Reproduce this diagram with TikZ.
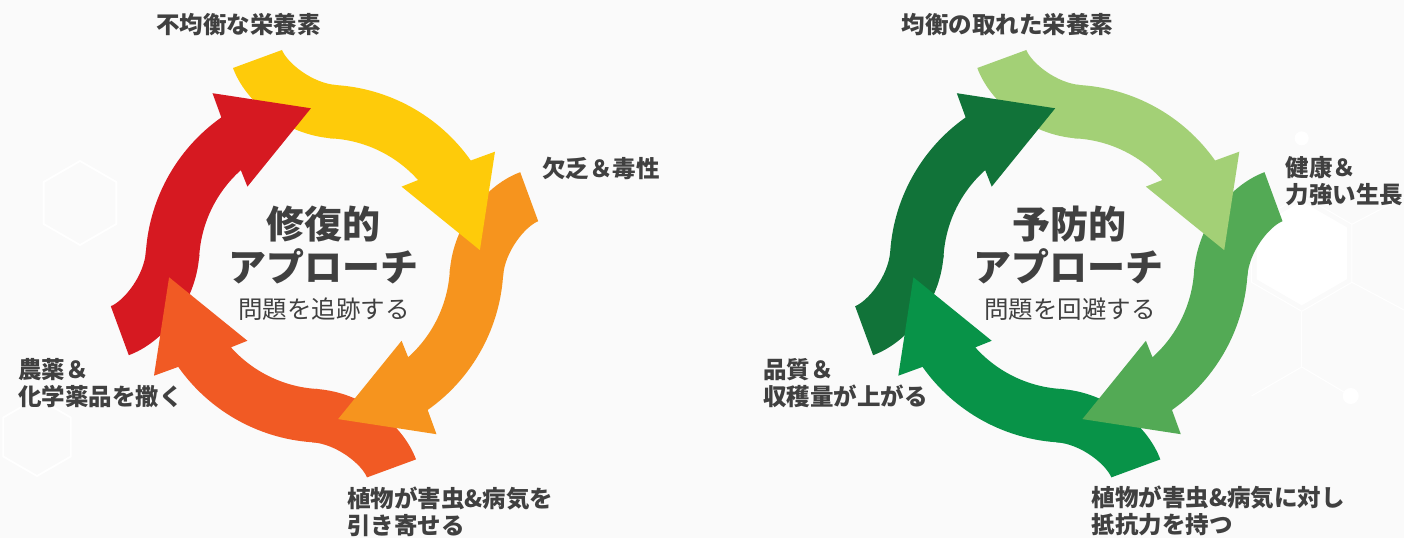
\documentclass[tikz,border=0pt]{standalone}
\usepackage{fontspec}
\setmainfont{Noto Sans CJK JP}
\definecolor{bg}{HTML}{FAFAFA}
\definecolor{txt}{HTML}{404040}
\definecolor{cyel}{HTML}{FECB0A}
\definecolor{corg}{HTML}{F6941E}
\definecolor{cred}{HTML}{F15A24}
\definecolor{cdrd}{HTML}{D61921}
\definecolor{gl}{HTML}{A3D076}
\definecolor{gm}{HTML}{53AA55}
\definecolor{gg}{HTML}{089348}
\definecolor{gd}{HTML}{117339}
\tikzset{
  lbl/.style={anchor=west, inner sep=0pt, text=txt, font=\bfseries\fontsize{23.5}{27}\selectfont, align=left},
  ttl/.style={inner sep=0pt, text=txt, font=\bfseries\fontsize{38}{42}\selectfont},
  subt/.style={inner sep=0pt, text=txt, font=\fontsize{24.5}{28}\selectfont},
  hexline/.style={draw=white, line width=1.8pt, line join=round},
}
\newcommand\cyctail[1]{\fill[#1] (86:179) .. controls (-12.4,180.3) and (-37.4,200.9) .. (-42.5,213.7) -- (-91.5,195.7) .. controls (-79.5,163.1) and (-41.1,128.7) .. (86:125.5) -- cycle;}
\newcommand\cychead[1]{\fill[#1] (87.5:179) arc[start angle=87.5, end angle=35.2, radius=179] -- (33.3:204) -- (5:156) -- (45:109) -- (41.8:125.5) arc[start angle=41.8, end angle=87.5, radius=125.5] -- cycle;}
\newcommand\hexat[2]{(#1) +(90:#2) -- +(30:#2) -- +(-30:#2) -- +(-90:#2) -- +(-150:#2) -- +(150:#2) -- cycle}
\begin{document}
\begin{tikzpicture}[x=1pt,y=1pt]
\fill[bg] (0,0) rectangle (1404,538);
\path[use as bounding box] (0,0) rectangle (1404,538);
% faint background hexagons
\draw[hexline] \hexat{80,335}{42};
\draw[hexline] \hexat{37,101}{39};
\fill[white] \hexat{1301.7,284.7}{52};
\draw[hexline, line width=1pt] \hexat{1301.7,284.7}{58};
\draw[hexline, line width=1pt] (1351.9,313.7) -- (1404,341);
\draw[hexline, line width=1pt] (1351.9,255.7) -- (1404,228);
\draw[hexline, line width=1pt] (1301.7,226.7) -- (1301.7,171) -- (1251.5,142) ;
\draw[hexline, line width=1pt] (1301.7,171) -- (1350.7,142);
\fill[white] (1301.7,399.7) circle (7);
\fill[white] (1350.7,142) circle (8);
% left cycle
\begin{scope}[shift={(324.5,274.3)}]
  \foreach \c [count=\k from 0] in {cyel,corg,cred,cdrd} {
    \begin{scope}[rotate=-90*\k] \cyctail{\c} \end{scope}
  }
  \foreach \c [count=\k from 0] in {cyel,corg,cred,cdrd} {
    \begin{scope}[rotate=-90*\k] \cychead{\c} \end{scope}
  }
\end{scope}
% right cycle
\begin{scope}[shift={(1068.8,274.3)}]
  \foreach \c [count=\k from 0] in {gl,gm,gg,gd} {
    \begin{scope}[rotate=-90*\k] \cyctail{\c} \end{scope}
  }
  \foreach \c [count=\k from 0] in {gl,gm,gg,gd} {
    \begin{scope}[rotate=-90*\k] \cychead{\c} \end{scope}
  }
\end{scope}
% centre texts
\node[ttl] (lt1) at (323.3,314) {修復的};
\node[ttl] (lt2) at (323.3,272) {アプローチ};
\node[subt] (lt3) at (324,229) {問題を追跡する};
\node[ttl] (rt1) at (1069,314) {予防的};
\node[ttl] (rt2) at (1068,272) {アプローチ};
\node[subt] (rt3) at (1070,229) {問題を回避する};
% labels
\node[lbl] (l1) at (156,513) {不均衡な栄養素};
\node[lbl] (l2) at (542,370) {欠乏＆毒性};
\node[lbl] (l3) at (347,26) {植物が害虫\&病気を\\引き寄せる};
\node[lbl] (l4) at (18,155) {農薬＆\\化学薬品を撒く};
\node[lbl] (r1) at (901.5,513.3) {均衡の取れた栄養素};
\node[lbl] (r2) at (1285.5,356.7) {健康＆\\力強い生長};
\node[lbl] (r3) at (1091.5,26.8) {植物が害虫\&病気に対し\\抵抗力を持つ};
\node[lbl] (r4) at (763,155) {品質＆\\収穫量が上がる};
\end{tikzpicture}
\end{document}
